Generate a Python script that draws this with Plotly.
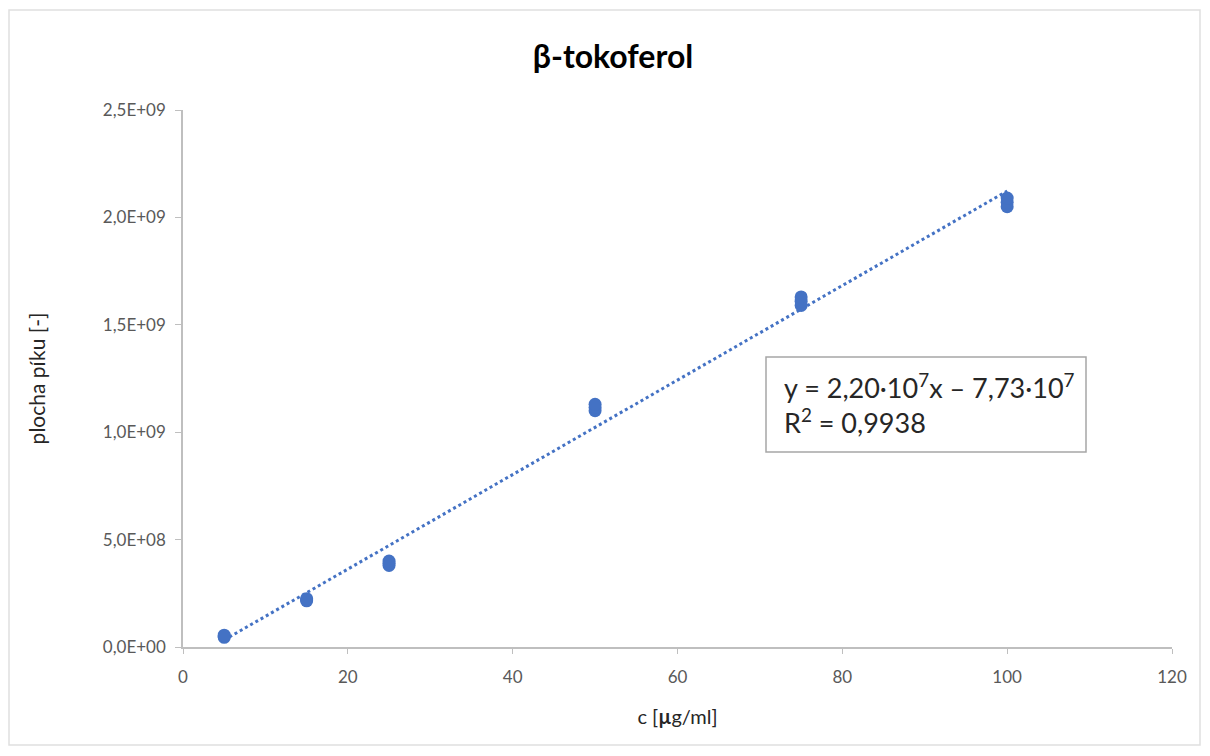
import plotly.graph_objects as go

# Data
conc = [5, 5, 5, 15, 15, 15, 25, 25, 25, 50, 50, 50, 75, 75, 75, 100, 100, 100]
area = [4.5e7, 5.0e7, 5.5e7,
        2.15e8, 2.20e8, 2.25e8,
        3.80e8, 3.90e8, 4.00e8,
        1.100e9, 1.115e9, 1.130e9,
        1.590e9, 1.610e9, 1.630e9,
        2.050e9, 2.070e9, 2.090e9]

slope = 2.20e7
intercept = -7.73e7
trend_x = [min(conc), max(conc)]
trend_y = [slope * v + intercept for v in trend_x]

y_ticks = [0, 5e8, 1e9, 1.5e9, 2e9, 2.5e9]
y_ticktext = ["0,0E+00", "5,0E+08", "1,0E+09", "1,5E+09", "2,0E+09", "2,5E+09"]
x_ticks = [0, 20, 40, 60, 80, 100, 120]

BLUE = "#4472C4"
FONT = "Lato, 'Open Sans', sans-serif"

fig = go.Figure()
fig.add_trace(go.Scatter(
    x=trend_x, y=trend_y, mode="lines",
    line=dict(color=BLUE, width=3, dash="dot"),
    hoverinfo="skip", showlegend=False))
fig.add_trace(go.Scatter(
    x=conc, y=area, mode="markers",
    marker=dict(color=BLUE, size=13),
    showlegend=False))

fig.update_layout(
    width=1210, height=756,
    paper_bgcolor="white", plot_bgcolor="white",
    margin=dict(l=175, r=46, t=102, b=117),
    font=dict(family=FONT, color="#595959", size=16),
    title=dict(text="<b>β-tokoferol</b>", x=0.5, xanchor="center",
               y=1 - 49 / 756, yanchor="middle",
               font=dict(family=FONT, size=32, color="#000000")),
    xaxis=dict(range=[0, 120], tickvals=x_ticks, showgrid=False, zeroline=False,
               showline=True, linecolor="#BFBFBF", linewidth=1.5,
               ticks="outside", ticklen=5, tickcolor="#BFBFBF",
               ticklabelstandoff=9,
               tickfont=dict(size=17, color="#595959"),
               title=dict(text="c [<b>µ</b>g/ml]", standoff=24,
                          font=dict(size=20, color="#262626"))),
    yaxis=dict(range=[0, 2.5e9], tickvals=y_ticks, ticktext=y_ticktext,
               showgrid=False, zeroline=False,
               showline=True, linecolor="#BFBFBF", linewidth=1.5,
               ticks="outside", ticklen=6, tickcolor="#BFBFBF",
               ticklabelstandoff=6,
               tickfont=dict(size=17, color="#595959"),
               title=dict(text="plocha píku [-]", standoff=52,
                          font=dict(size=21, color="#262626"))),
)

# equation box
fig.add_shape(type="rect", xref="paper", yref="paper",
              x0=(766 - 183) / 989, x1=(1086 - 183) / 989,
              y0=(647 - 452) / 537, y1=(647 - 357) / 537,
              line=dict(color="#A6A6A6", width=1.5), fillcolor="white")
fig.add_annotation(xref="paper", yref="paper",
                   x=(782 - 183) / 989, y=(647 - 403) / 537,
                   xanchor="left", yanchor="middle", align="left", showarrow=False,
                   text="y = 2,20·10<sup>7</sup>x – 7,73·10<sup>7</sup><br>R<sup>2</sup> = 0,9938",
                   font=dict(family=FONT, size=27, color="#262626"))

# chart border
fig.add_shape(type="rect", xref="paper", yref="paper",
              x0=(9 - 183) / 989, x1=(1200 - 183) / 989,
              y0=(647 - 745) / 537, y1=(647 - 10) / 537,
              line=dict(color="#E0E0E0", width=1.5), layer="below")

fig.write_html("out.html")
